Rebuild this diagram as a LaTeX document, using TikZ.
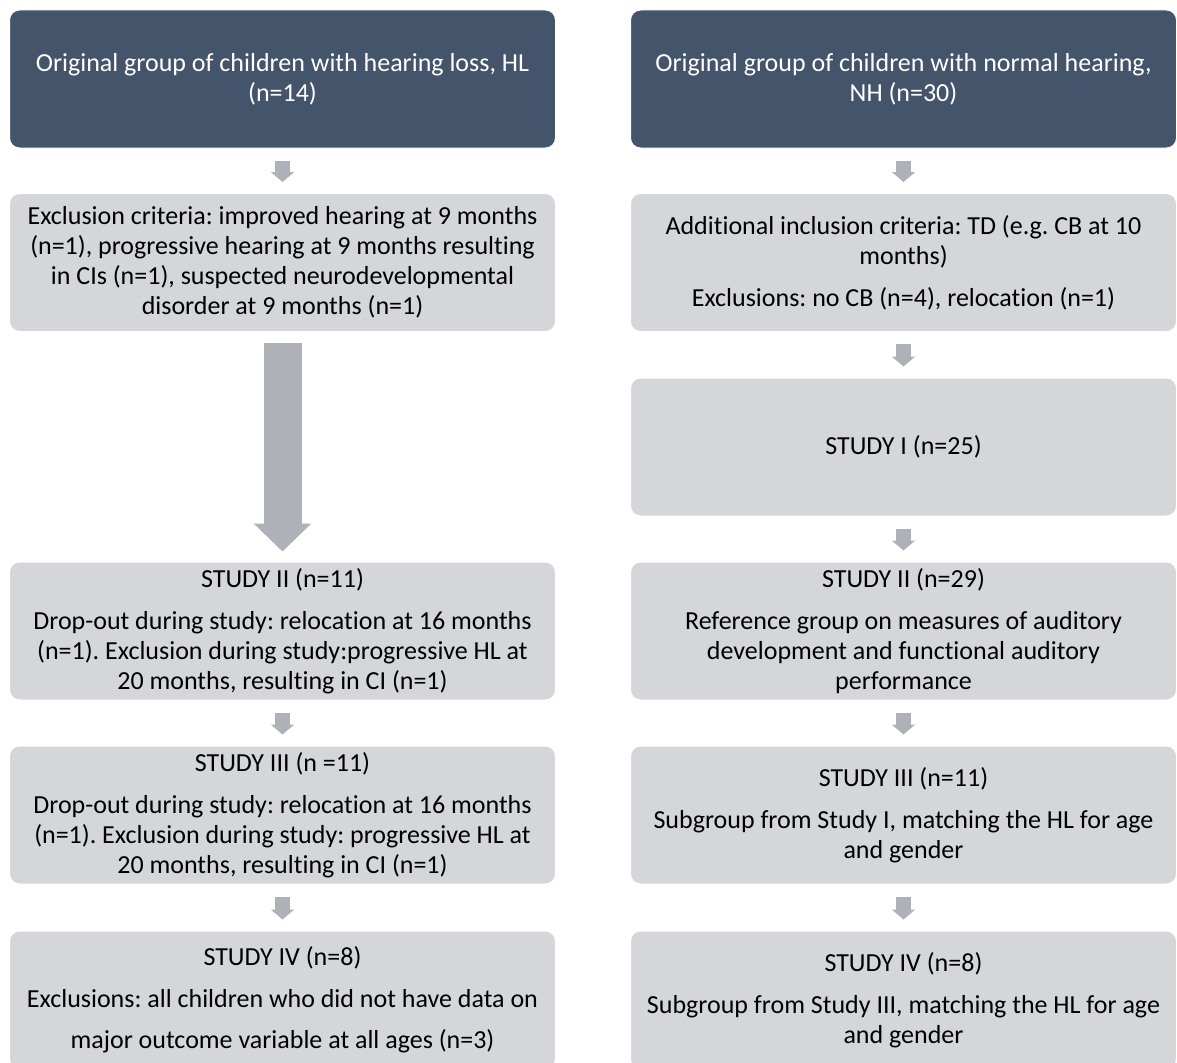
\documentclass[tikz,border=0pt]{standalone}
\usepackage{fontspec}
\setmainfont[Ligatures=NoCommon]{Carlito}
\frenchspacing
\usetikzlibrary{arrows.meta}
\definecolor{darkbox}{HTML}{44546A}
\definecolor{lightbox}{HTML}{D5D6DA}
\definecolor{arrowgrey}{HTML}{AEB1B8}
\tikzset{
  box/.style={rectangle, rounded corners=10pt, minimum width=546pt, minimum height=138pt,
    inner sep=0pt, align=center, draw=white, line width=1pt,
    font=\fontsize{26}{30}\selectfont},
  topbox/.style={box, fill=darkbox, text=white},
  greybox/.style={box, fill=lightbox, text=black},
  smallarrow/.style={draw=arrowgrey, line width=15pt,
    -{Triangle[length=10pt,width=23pt]}, shorten <=12pt, shorten >=11pt},
  bigarrow/.style={draw=arrowgrey, line width=38pt,
    -{Triangle[length=28pt,width=56pt]}, shorten <=11pt, shorten >=10pt}
}
\begin{document}
\begin{tikzpicture}[x=1pt,y=-1pt]
\useasboundingbox (0,0) rectangle (1177,1062);
\clip (0,0) rectangle (1177,1062);
\fill[white] (0,0) rectangle (1177,1062);

% left column
\node[topbox] (l1) at (282.5,79) {Original group of children with hearing loss, HL\\(n=14)};
\node[greybox] (l2) at (282.5,262.5) {Exclusion criteria: improved hearing at 9 months\\(n=1), progressive hearing at 9 months resulting\\in CIs (n=1), suspected neurodevelopmental\\disorder at 9 months (n=1)};
\node[greybox] (l4) at (282.5,631) {STUDY II (n=11)\\[12pt]Drop-out during study: relocation at 16 months\\(n=1). Exclusion during study:progressive HL at\\20 months, resulting in CI (n=1)};
\node[greybox] (l5) at (282.5,815) {STUDY III (n =11)\\[12pt]Drop-out during study: relocation at 16 months\\(n=1). Exclusion during study: progressive HL at\\20 months, resulting in CI (n=1)};
\node[greybox] (l6) at (282.5,1000) {STUDY IV (n=8)\\[12pt]Exclusions: all children who did not have data on\\[11pt]major outcome variable at all ages (n=3)};

% right column
\node[topbox] (r1) at (903.5,79) {Original group of children with normal hearing,\\NH (n=30)};
\node[greybox] (r2) at (903.5,262.5) {Additional inclusion criteria: TD (e.g. CB at 10\\months)\\[12pt]Exclusions: no CB (n=4), relocation (n=1)};
\node[greybox] (r3) at (903.5,447) {STUDY I (n=25)};
\node[greybox] (r4) at (903.5,631) {STUDY II (n=29)\\[12pt]Reference group on measures of auditory\\development and functional auditory\\performance};
\node[greybox] (r5) at (903.5,815) {STUDY III (n=11)\\[12pt]Subgroup from Study I, matching the HL for age\\and gender};
\node[greybox] (r6) at (903.5,1000) {STUDY IV (n=8)\\[12pt]Subgroup from Study III, matching the HL for age\\and gender};

% connectors
\draw[smallarrow] (l1.south) -- (l2.north);
\draw[bigarrow] (l2.south) -- (l4.north);
\draw[smallarrow] (l4.south) -- (l5.north);
\draw[smallarrow] (l5.south) -- (l6.north);
\draw[smallarrow] (r1.south) -- (r2.north);
\draw[smallarrow] (r2.south) -- (r3.north);
\draw[smallarrow] (r3.south) -- (r4.north);
\draw[smallarrow] (r4.south) -- (r5.north);
\draw[smallarrow] (r5.south) -- (r6.north);
\end{tikzpicture}
\end{document}
